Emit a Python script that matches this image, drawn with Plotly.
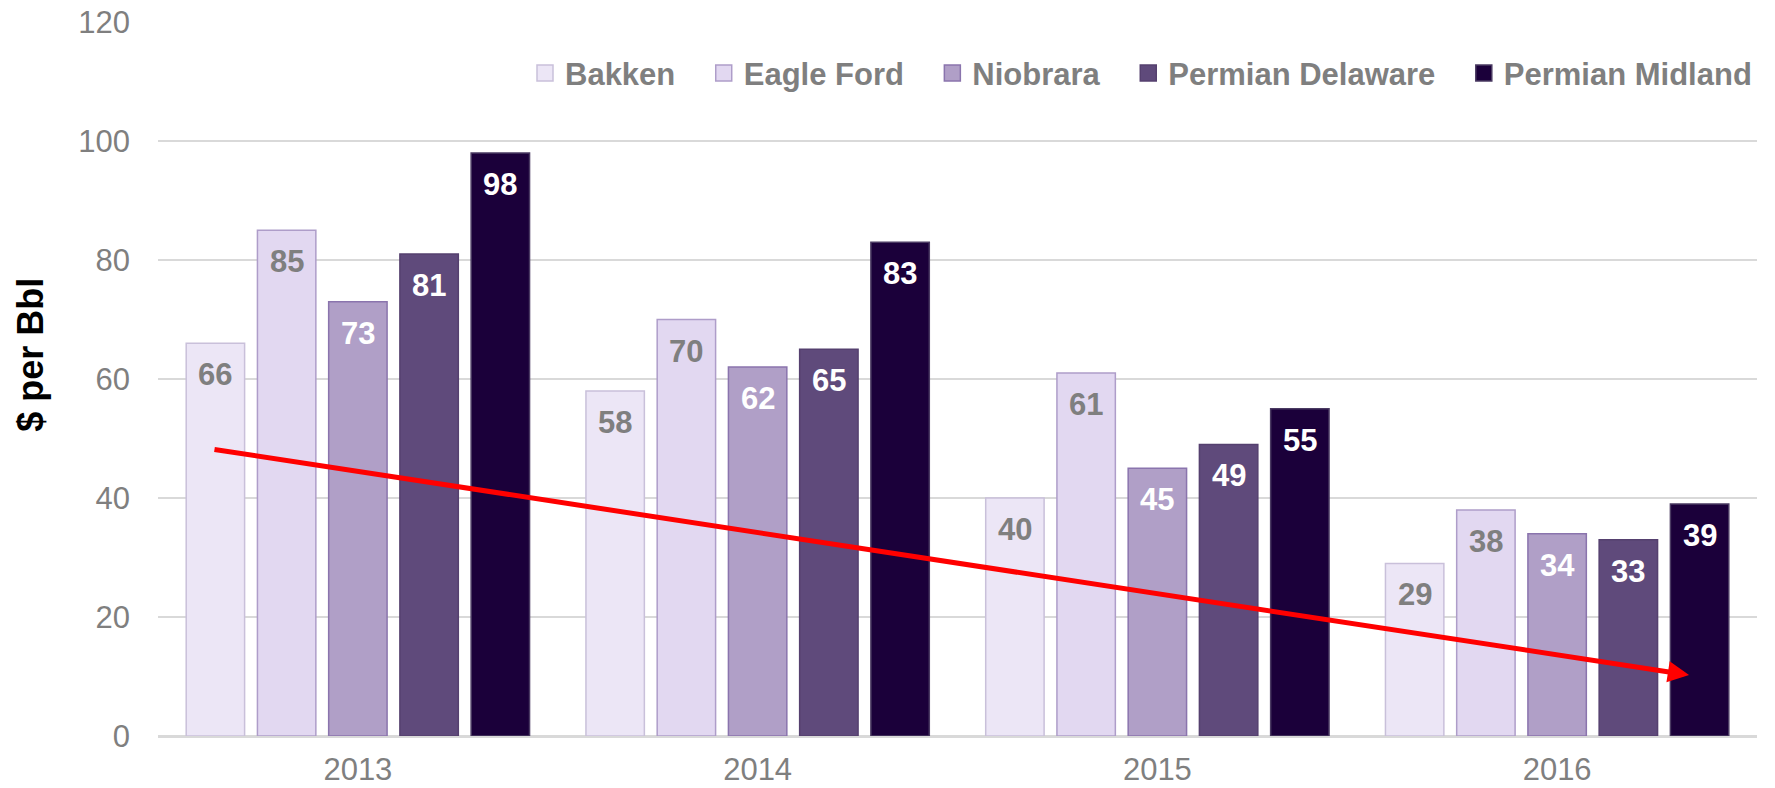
import plotly.graph_objects as go

years = ["2013", "2014", "2015", "2016"]
series_names = ["Bakken", "Eagle Ford", "Niobrara", "Permian Delaware", "Permian Midland"]
bakken = [66, 58, 40, 29]
eagle_ford = [85, 70, 61, 38]
niobrara = [73, 62, 45, 34]
permian_delaware = [81, 65, 49, 33]
permian_midland = [98, 83, 55, 39]
series_values = [bakken, eagle_ford, niobrara, permian_delaware, permian_midland]

fill_colors = ["#ece6f6", "#e2d8f1", "#b09fc7", "#5f4a7b", "#1b003a"]
line_colors = ["#c9c0da", "#ae9dc9", "#8a74ad", "#55406f", "#4a3a62"]
label_colors = ["#7f7f7f", "#7f7f7f", "#ffffff", "#ffffff", "#ffffff"]

y_title = "$ per Bbl"

# trend arrow endpoints in data units (category index, $ per Bbl)
trend_start = [-0.3625, 48.2]
trend_end = [3.33, 10.25]

FONT = "Liberation Sans, Arial, sans-serif"
GRAY = "#7f7f7f"
BARGAP = 0.109
BARGROUPGAP = 0.18
ITEM_PAD = "\u00a0\u00a0\u2009"

fig = go.Figure()
for name, vals, fc, lc in zip(series_names, series_values, fill_colors, line_colors):
    fig.add_trace(go.Bar(
        x=years, y=vals, name=name, showlegend=False,
        marker=dict(color=fc, line=dict(color=lc, width=1.5)),
    ))

# legend entries (larger square swatches)
for k, (name, fc, lc) in enumerate(zip(series_names, fill_colors, line_colors)):
    label = name + (ITEM_PAD if k < len(series_names) - 1 else "")
    fig.add_trace(go.Scatter(
        x=[years[0]], y=[None], mode="markers", name=label, showlegend=True,
        marker=dict(symbol="square", size=16, color=fc, line=dict(color=lc, width=1.5)),
        hoverinfo="skip",
    ))

n = len(series_names)
slot = (1 - BARGAP) / n
annotations = []
for i, (vals, tc) in enumerate(zip(series_values, label_colors)):
    for j, v in enumerate(vals):
        annotations.append(dict(
            x=j + (i - (n - 1) / 2) * slot, y=v, xref="x", yref="y",
            text=str(v), showarrow=False, yanchor="top", xanchor="center",
            yshift=-12,
            font=dict(family=FONT, size=31, color=tc, weight="bold"),
        ))

annotations.append(dict(
    x=trend_end[0], y=trend_end[1], ax=trend_start[0], ay=trend_start[1],
    xref="x", yref="y", axref="x", ayref="y", text="",
    showarrow=True, arrowhead=2, arrowsize=0.85, arrowwidth=5,
    arrowcolor="#ff0000", standoff=0, startstandoff=0,
))

# y-axis title
annotations.append(dict(
    text=y_title, xref="paper", yref="paper", x=-0.0794, y=0.534,
    xanchor="center", yanchor="middle", textangle=-90, showarrow=False,
    font=dict(family=FONT, size=36, color="#000000", weight="bold"),
))

fig.update_layout(
    width=1775, height=788,
    margin=dict(l=158, r=18, t=22, b=52),
    paper_bgcolor="white", plot_bgcolor="white",
    barmode="group", bargap=BARGAP, bargroupgap=BARGROUPGAP,
    font=dict(family=FONT, color=GRAY),
    showlegend=True,
    legend=dict(
        orientation="h", x=1.0, xanchor="right", y=0.928, yanchor="middle",
        font=dict(family=FONT, size=31, color=GRAY, weight="bold"),
        bgcolor="rgba(0,0,0,0)", itemwidth=30, borderwidth=0,
        itemclick=False, itemdoubleclick=False,
    ),
    annotations=annotations,
)
fig.update_xaxes(
    type="category", showgrid=False, ticks="", automargin=False,
    showline=True, linecolor="#d9d9d9", linewidth=1.5,
    tickfont=dict(family=FONT, size=31, color=GRAY),
    ticklabelstandoff=5,
)
fig.update_yaxes(
    range=[0, 120], dtick=20, showgrid=True, gridcolor="#d9d9d9", gridwidth=1.5,
    zeroline=True, zerolinecolor="#d9d9d9", zerolinewidth=1.5, automargin=False,
    ticks="", tickfont=dict(family=FONT, size=31, color=GRAY),
    ticklabelstandoff=27,
)

fig.write_html(
    "out.html",
    config={"displayModeBar": False},
    post_script="document.body.style.margin='0';document.body.style.overflow='hidden';",
)
